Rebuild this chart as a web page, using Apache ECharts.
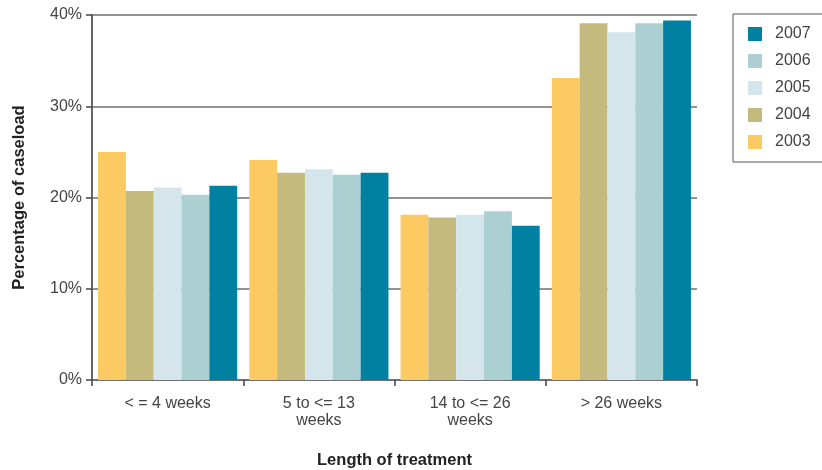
<!DOCTYPE html>
<html><head><meta charset="utf-8">
<script src="https://cdn.jsdelivr.net/npm/echarts@6/dist/echarts.min.js"></script>
<style>html,body{margin:0;padding:0;background:#fff}#c{width:822px;height:470px}</style>
</head><body><div id="c"></div>
<script>
const categories = ["< = 4 weeks", "5 to <= 13\nweeks", "14 to <= 26\nweeks", "> 26 weeks"];
const years = ["2003", "2004", "2005", "2006", "2007"];
const v2003 = [25.0, 24.1, 18.1, 33.1];
const v2004 = [20.7, 22.7, 17.8, 39.1];
const v2005 = [21.1, 23.1, 18.1, 38.1];
const v2006 = [20.3, 22.5, 18.5, 39.1];
const v2007 = [21.3, 22.7, 16.9, 39.4];
const yTicks = [0, 10, 20, 30, 40];
const colors = ["#FCCA63", "#C4BA7E", "#D4E6EC", "#ACCFD2", "#0081A1"];
const values = [v2003, v2004, v2005, v2006, v2007];

const font = "Liberation Sans, Arial, sans-serif";
const chart = echarts.init(document.getElementById('c'), null, {renderer: 'canvas'});
chart.setOption({
  animation: false,
  grid: {left: 92, right: 125, top: 15, bottom: 90, containLabel: false, outerBoundsMode: 'none'},
  legend: {
    data: years.slice().reverse(),
    orient: 'vertical',
    left: 733, top: 14,
    itemWidth: 14, itemHeight: 14, itemGap: 11,
    icon: 'rect',
    padding: [12, 30, 12, 15],
    borderColor: '#555', borderWidth: 1,
    textStyle: {fontFamily: font, fontSize: 16, color: '#444', padding: [0,0,0,8]}
  },
  xAxis: {
    type: 'category',
    data: categories,
    name: 'Length of treatment',
    nameLocation: 'middle',
    nameGap: 72,
    nameTextStyle: {fontFamily: font, fontSize: 16.5, fontWeight: 'bold', color: '#222'},
    axisLine: {lineStyle: {color: '#666', width: 1.5}},
    axisTick: {show: true, length: 6, lineStyle: {color: '#444', width: 1.5}},
    axisLabel: {fontFamily: font, fontSize: 16, color: '#444', margin: 15, lineHeight: 17, interval: 0}
  },
  yAxis: {
    type: 'value',
    min: yTicks[0], max: yTicks[yTicks.length-1], interval: 10,
    name: 'Percentage of caseload',
    nameLocation: 'middle',
    nameGap: 64,
    nameTextStyle: {fontFamily: font, fontSize: 16.5, fontWeight: 'bold', color: '#222'},
    axisLine: {show: true, lineStyle: {color: '#666', width: 2}},
    axisTick: {show: true, length: 6, lineStyle: {color: '#444', width: 1.5}},
    axisLabel: {fontFamily: font, fontSize: 16, color: '#444', margin: 10, formatter: '{value}%'},
    splitLine: {show: true, lineStyle: {color: '#6e6e6e', width: 1.5}}
  },
  series: years.map((y, i) => ({
    name: y,
    type: 'bar',
    data: values[i],
    barGap: '0%',
    barCategoryGap: '8%',
    itemStyle: {color: colors[i]}
  }))
});
</script></body></html>
